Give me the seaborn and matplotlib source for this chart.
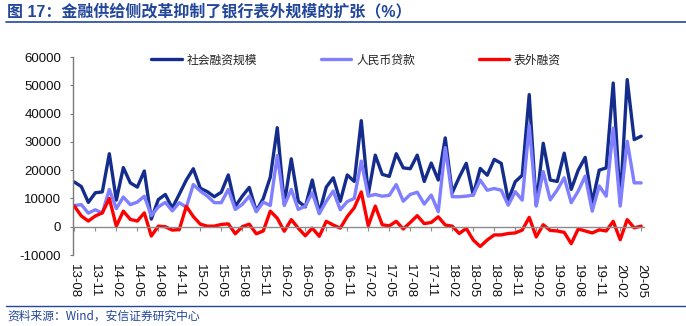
import numpy as np
import pandas as pd
import matplotlib
matplotlib.use("Agg")
import matplotlib.pyplot as plt
from matplotlib.lines import Line2D
import seaborn as sns

# ---------------- data ----------------
months = pd.period_range("2013-08", "2020-05", freq="M").strftime("%y-%m").tolist()

tsf = [  # 社会融资规模
    15800, 14200, 8600, 12000, 12300,
    25800, 9400, 20900, 15500, 14000, 19700, 2700, 9600, 11400, 6600, 11500, 16500,
    20500, 13600, 12400, 10600, 12200, 18300, 7200, 10800, 13900, 5500, 10000, 17500,
    35000, 8000, 24000, 9000, 7000, 16500, 4900, 14000, 17300, 9000, 18300, 16000,
    37500, 11500, 25300, 18500, 17800, 25800, 20800, 20500, 25300, 16000, 22500, 16500,
    31400, 12000, 17500, 22400, 11200, 20600, 18200, 23800, 22400, 9400, 15900, 18200,
    46700, 7500, 29500, 16500, 16000, 26000, 13200, 20000, 24500, 8500, 20000, 20800,
    50800, 8500, 52000, 30800, 32000,
]
loans = [  # 人民币贷款
    7500, 7800, 4800, 6000, 4800,
    13200, 6400, 10500, 7800, 8700, 10800, 3900, 7000, 8600, 5600, 8500, 6900,
    14900, 12600, 10800, 8500, 8500, 13200, 6100, 7900, 10800, 5300, 8700, 7500,
    25200, 7500, 13200, 6100, 7300, 12000, 4600, 9000, 12600, 6000, 8900, 10000,
    23200, 10800, 11400, 10800, 11100, 14900, 9000, 11400, 12200, 8000, 11200, 5300,
    28000, 10600, 10600, 10800, 11200, 16500, 12900, 13500, 12900, 7600, 12400, 9400,
    35800, 7300, 19500, 9500, 13000, 17300, 8500, 12600, 17900, 5500, 14400, 10800,
    34900, 7300, 30200, 15500, 15500,
]
offbs = [  # 表外融资
    7300, 3800, 2000, 3800, 4900,
    10000, 200, 5500, 2600, 2000, 4900, -3300, 200, 0, -1200, -1000, 7200,
    3600, 900, 200, 200, 800, 1000, -2500, 0, 900, -2500, -1500, 5500,
    3000, -1600, 2500, -500, -3200, -500, -3400, 1900, 600, -500, 3600, 6700,
    12300, 300, 7300, 700, 300, 1900, -800, 1500, 3900, 1100, 1500, 3500,
    600, 200, -2400, -600, -4700, -7000, -4700, -2900, -2900, -2400, -2200, -1200,
    3300, -3600, 700, -1300, -1500, -2000, -6000, -800, -1500, -2200, -1100, -1500,
    1900, -4600, 2500, -400, 200,
]
series_names = ["社会融资规模", "人民币贷款", "表外融资"]
series_colors = ["#142C8C", "#7F7FFF", "#FF0000"]

yticks = list(range(-10000, 60001, 10000))

# ---------------- figure ----------------
sns.set_theme(style="white")
plt.rcParams["font.family"] = ["Liberation Sans", "Noto Sans CJK SC", "DejaVu Sans"]
plt.rcParams["axes.unicode_minus"] = False

W, H = 686, 326
fig = plt.figure(figsize=(W / 100, H / 100), dpi=100)
ax = fig.add_axes([73 / W, 1 - 255 / H, (644 - 73) / W, (255 - 57) / H])

df = pd.DataFrame({"idx": np.arange(len(months)), "月份": months,
                   series_names[0]: tsf, series_names[1]: loans, series_names[2]: offbs})

for name, col in zip(series_names, series_colors):
    sns.lineplot(data=df, x="idx", y=name, ax=ax, color=col, lw=2.4,
                 label=name, solid_joinstyle="round", solid_capstyle="round")

ax.set_xlim(-0.19, 81.4)
ax.set_ylim(-10000, 60000)
ax.set_yticks(yticks)
ax.set_yticklabels([str(v) for v in yticks])
ax.set_xticks(list(df["idx"][::3]))
ax.set_xticklabels(list(df["月份"][::3]))
ax.set_xlabel("")
ax.set_ylabel("")

for s in ["top", "right"]:
    ax.spines[s].set_visible(False)
ax.spines["bottom"].set_position(("data", 0))
ax.spines["bottom"].set_color("#8C8C8C")
ax.spines["bottom"].set_linewidth(1.0)
ax.spines["left"].set_color("#7A7A7A")
ax.spines["left"].set_linewidth(1.0)

ax.tick_params(axis="x", direction="out", length=3, width=0.8, color="#8C8C8C",
               pad=24, labelsize=9.5, labelcolor="#111111", bottom=True,
               labelrotation=-90)
ax.tick_params(axis="y", direction="out", length=2.5, width=0.8, color="#7A7A7A",
               pad=6, labelsize=9.5, labelcolor="#111111", left=True)
for lab in ax.get_xticklabels():
    lab.set_rotation(-90)
    lab.set_ha("center")
    lab.set_va("top")
ax.grid(False)

leg = ax.legend(ncol=3, loc="center", bbox_to_anchor=(356 / W, 1 - 60 / H),
                bbox_transform=fig.transFigure, frameon=False, handlelength=2.6,
                handletextpad=0.4, columnspacing=5.4,
                prop={"family": ["Noto Sans CJK SC", "DejaVu Sans"], "size": 8.5})
for t in leg.get_texts():
    t.set_color("#222222")

title_blue = "#22479A"
fig.text(7 / W, 1 - 12 / H, "图 17：金融供给侧改革抑制了银行表外规模的扩张（%）",
         fontsize=11.5, fontweight="bold", color=title_blue, va="center", ha="left")
fig.add_artist(Line2D([6 / W, 1.0], [1 - 22 / H] * 2, color=title_blue, lw=1.2,
                      transform=fig.transFigure))
fig.add_artist(Line2D([6 / W, 1.0], [1 - 306 / H] * 2, color=title_blue, lw=1.0,
                      transform=fig.transFigure))
fig.text(7 / W, 1 - 316 / H, "资料来源：Wind，安信证券研究中心",
         fontsize=8.5, style="italic", color=title_blue, va="center", ha="left",
         family=["Noto Sans CJK SC", "DejaVu Sans"])

fig.savefig("out.png", dpi=100)
